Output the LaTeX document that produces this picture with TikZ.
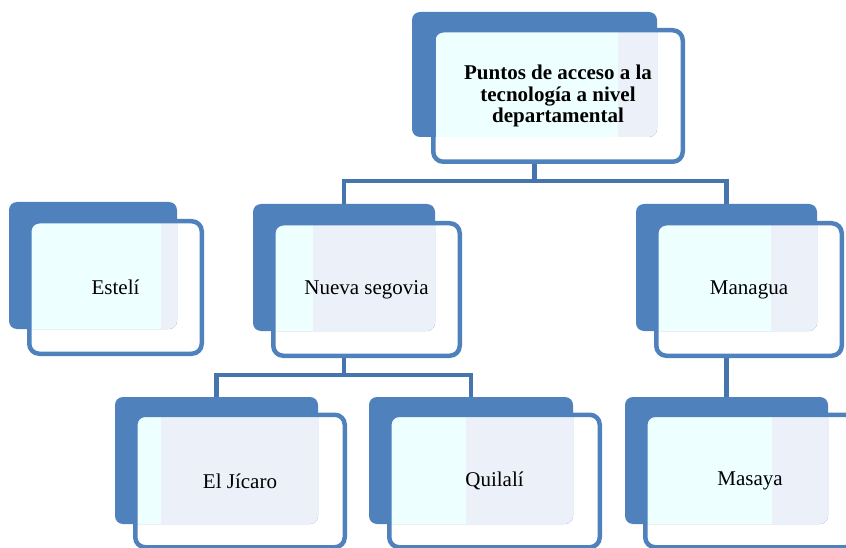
\documentclass[tikz,border=0pt]{standalone}
\usepackage{fontspec}
\setmainfont{Liberation Serif}
\usepackage{tikz}
\usetikzlibrary{positioning}
\pgfdeclarelayer{bg}
\pgfsetlayers{bg,main}
\definecolor{boxblue}{HTML}{4F81BD}
\definecolor{linkblue}{HTML}{4674AC}
\definecolor{panelcyan}{HTML}{EDFFFF}
\definecolor{panelgray}{HTML}{ECF0F8}

\begin{document}
\begin{tikzpicture}[x=1pt, y=-1pt,
  back/.style={shape=rectangle, fill=boxblue, rounded corners=8pt, inner sep=0pt},
  front/.style={shape=rectangle, draw=boxblue, line width=4.5pt, rounded corners=10pt, inner sep=0pt,
    font=\fontsize{21}{21.5}\selectfont, align=center},
  link/.style={draw=linkblue, line width=4.5pt}]
\useasboundingbox (0,0) rectangle (846,548);

% back boxes
\node[back, minimum width=245, minimum height=125] (puntosb) at (534.5,74.5) {};
\node[back, minimum width=168, minimum height=127] (estelib) at (93,265.5) {};
\node[back, minimum width=182, minimum height=127] (nsegoviab) at (344,267.5) {};
\node[back, minimum width=181, minimum height=127] (managuab) at (726.5,267.5) {};
\node[back, minimum width=203, minimum height=127] (jicarob) at (216.5,460.5) {};
\node[back, minimum width=204, minimum height=127] (quilalib) at (471,460.5) {};
\node[back, minimum width=203, minimum height=127] (masayab) at (726.5,460.5) {};

% text panels
\fill[panelcyan] (436,32) rectangle (618,137);
\fill[panelgray] (618,32) -- (657,32) [rounded corners=8pt] -- (657,137) [sharp corners] -- (618,137) -- cycle;
\fill[panelcyan] (31,223) rectangle (161,329);
\fill[panelgray] (161,223) -- (177,223) [rounded corners=8pt] -- (177,329) [sharp corners] -- (161,329) -- cycle;
\fill[panelcyan] (275,225) rectangle (313,331);
\fill[panelgray] (313,225) -- (435,225) [rounded corners=8pt] -- (435,331) [sharp corners] -- (313,331) -- cycle;
\fill[panelcyan] (658,225) rectangle (771,331);
\fill[panelgray] (771,225) -- (817,225) [rounded corners=8pt] -- (817,331) [sharp corners] -- (771,331) -- cycle;
\fill[panelcyan] (137,417) rectangle (161,524);
\fill[panelgray] (161,417) -- (318,417) [rounded corners=8pt] -- (318,524) [sharp corners] -- (161,524) -- cycle;
\fill[panelcyan] (391,417) rectangle (466,524);
\fill[panelgray] (466,417) -- (573,417) [rounded corners=8pt] -- (573,524) [sharp corners] -- (466,524) -- cycle;
\fill[panelcyan] (647,417) rectangle (772,524);
\fill[panelgray] (772,417) -- (828,417) [rounded corners=8pt] -- (828,524) [sharp corners] -- (772,524) -- cycle;

% front boxes
\node[front, minimum width=249.5, minimum height=131.5] (puntos) at (558,96)
  {\textbf{Puntos de acceso a la}\\\textbf{tecnología a nivel}\\\textbf{departamental}};
\node[front, minimum width=172.5, minimum height=132.5] (esteli) at (115.5,287.5) {\raisebox{-2pt}{Estelí}};
\node[front, minimum width=186.5, minimum height=132.5] (nsegovia) at (366.5,289.5) {\raisebox{-2pt}{Nueva segovia}};
\node[front, minimum width=185.5, minimum height=132.5] (managua) at (749,289.5) {\raisebox{-2pt}{Managua}};
\node[front, minimum width=209.5, minimum height=132.5] (jicaro) at (240,481) {\raisebox{-1pt}{El Jícaro}};
\node[front, minimum width=210.5, minimum height=132.5] (quilali) at (494.5,481) {\raisebox{-1pt}{Quilalí}};
\node[front, minimum width=209.5, minimum height=132.5] (masaya) at (750,481) {\raisebox{-1pt}{Masaya}};

\begin{pgfonlayer}{bg}
\draw[link] (puntosb.south |- puntos.south) -- ++(0,17) -| (nsegoviab.north);
\draw[link] (puntosb.south |- puntos.south) -- ++(0,17) -| (managuab.north);
\draw[link] (nsegoviab.south |- nsegovia.south) -- ++(0,17) -| (jicarob.north);
\draw[link] (nsegoviab.south |- nsegovia.south) -- ++(0,17) -| (quilalib.north);
\draw[link] (managuab.south |- managua.south) -- (masayab.north);
\end{pgfonlayer}
\end{tikzpicture}
\end{document}
